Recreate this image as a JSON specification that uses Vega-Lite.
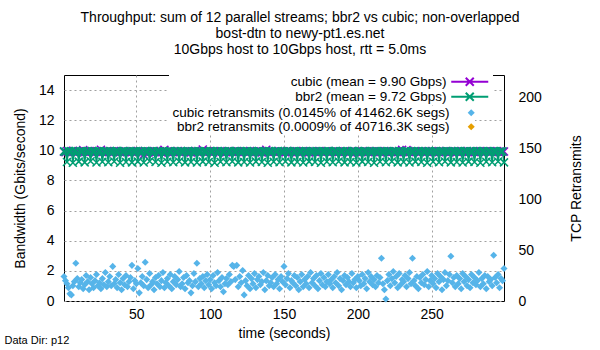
{
"$schema": "https://vega.github.io/schema/vega-lite/v6.json",
"width": 440, "height": 226,
"autosize": {"type": "none"},
"padding": {"left": 64, "top": 75, "right": 96, "bottom": 49},
"config": {
  "font": "Liberation Sans",
  "view": {"stroke": "black", "strokeWidth": 1},
  "axis": {"labelFontSize": 14, "titleFontSize": 14, "titleFontWeight": "normal", "labelColor": "black", "titleColor": "black", "domain": false, "ticks": false, "gridColor": "#a0a0a0", "gridDash": [2, 3], "gridWidth": 1, "labelFont": "Liberation Sans", "titleFont": "Liberation Sans"},
  "legend": {"padding": 0, "fillColor": "white", "labelAlign": "right", "labelFontSize": 13.5, "labelColor": "black", "labelFont": "Liberation Sans", "rowPadding": -4, "labelLimit": 400}
},
"title": {"text": ["Throughput: sum of 12 parallel streams; bbr2 vs cubic; non-overlapped", "bost-dtn to newy-pt1.es.net", "10Gbps host to 10Gbps host, rtt = 5.0ms"], "anchor": "middle", "frame": "group", "dx": 16, "fontSize": 14, "fontWeight": "normal", "font": "Liberation Sans", "lineHeight": 16, "offset": 18, "color": "black"},
"datasets": {"d": [
{"t":1,"c":9.91,"b":9.93,"r":24},{"t":2,"c":9.88,"b":9.90,"r":20},{"t":3,"c":9.95,"b":9.22,"r":17},{"t":4,"c":9.90,"b":9.95,"r":13},{"t":5,"c":9.86,"b":9.91,"r":7},{"t":6,"c":9.93,"b":9.94,"r":6},{"t":7,"c":9.97,"b":9.18,"r":15},{"t":8,"c":9.89,"b":9.92,"r":19},{"t":9,"c":9.92,"b":9.96,"r":37},{"t":10,"c":9.85,"b":9.89,"r":22},
{"t":11,"c":9.94,"b":9.25,"r":14},{"t":12,"c":9.90,"b":9.93,"r":18},{"t":13,"c":9.87,"b":9.90,"r":21},{"t":14,"c":10.02,"b":9.95,"r":12},{"t":15,"c":9.91,"b":9.20,"r":16},{"t":16,"c":9.89,"b":9.92,"r":25},{"t":17,"c":9.96,"b":9.94,"r":19},{"t":18,"c":9.88,"b":9.91,"r":11},{"t":19,"c":9.93,"b":9.27,"r":23},{"t":20,"c":9.90,"b":9.96,"r":17},
{"t":21,"c":9.86,"b":9.89,"r":13},{"t":22,"c":9.92,"b":9.93,"r":20},{"t":23,"c":9.95,"b":9.19,"r":26},{"t":24,"c":9.89,"b":9.92,"r":15},{"t":25,"c":9.91,"b":9.95,"r":18},{"t":26,"c":10.04,"b":9.90,"r":12},{"t":27,"c":9.87,"b":9.24,"r":22},{"t":28,"c":9.93,"b":9.94,"r":16},{"t":29,"c":9.90,"b":9.91,"r":28},{"t":30,"c":9.88,"b":9.93,"r":14},
{"t":31,"c":9.94,"b":9.21,"r":19},{"t":32,"c":9.91,"b":9.95,"r":24},{"t":33,"c":9.85,"b":9.92,"r":15},{"t":34,"c":9.92,"b":9.88,"r":34},{"t":35,"c":9.96,"b":9.26,"r":17},{"t":36,"c":9.89,"b":9.93,"r":21},{"t":37,"c":9.90,"b":9.96,"r":13},{"t":38,"c":9.93,"b":9.90,"r":26},{"t":39,"c":9.87,"b":9.18,"r":18},{"t":40,"c":9.91,"b":9.94,"r":11},
{"t":41,"c":9.95,"b":9.91,"r":22},{"t":42,"c":9.88,"b":9.95,"r":16},{"t":43,"c":9.92,"b":9.23,"r":25},{"t":44,"c":9.90,"b":9.92,"r":14},{"t":45,"c":9.86,"b":9.89,"r":19},{"t":46,"c":9.94,"b":9.94,"r":23},{"t":47,"c":9.89,"b":9.20,"r":35},{"t":48,"c":9.93,"b":9.93,"r":12},{"t":49,"c":9.91,"b":9.90,"r":20},{"t":50,"c":9.87,"b":9.96,"r":17},
{"t":51,"c":9.95,"b":9.25,"r":32},{"t":52,"c":9.90,"b":9.91,"r":8},{"t":53,"c":9.92,"b":9.94,"r":18},{"t":54,"c":9.88,"b":9.92,"r":24},{"t":55,"c":9.71,"b":9.19,"r":15},{"t":56,"c":9.93,"b":9.95,"r":38},{"t":57,"c":9.90,"b":9.90,"r":21},{"t":58,"c":9.86,"b":9.93,"r":13},{"t":59,"c":9.94,"b":9.27,"r":27},{"t":60,"c":9.91,"b":9.92,"r":16},
{"t":61,"c":9.89,"b":9.96,"r":19},{"t":62,"c":9.95,"b":9.89,"r":11},{"t":63,"c":9.88,"b":9.22,"r":23},{"t":64,"c":9.92,"b":9.94,"r":17},{"t":65,"c":9.90,"b":9.91,"r":25},{"t":66,"c":9.93,"b":9.93,"r":14},{"t":67,"c":9.87,"b":9.18,"r":20},{"t":68,"c":9.91,"b":9.95,"r":28},{"t":69,"c":10.03,"b":9.92,"r":13},{"t":70,"c":9.89,"b":9.90,"r":18},
{"t":71,"c":9.92,"b":9.24,"r":22},{"t":72,"c":9.86,"b":9.93,"r":15},{"t":73,"c":9.94,"b":9.96,"r":26},{"t":74,"c":9.90,"b":9.91,"r":12},{"t":75,"c":9.88,"b":9.21,"r":19},{"t":76,"c":9.93,"b":9.94,"r":24},{"t":77,"c":9.91,"b":9.89,"r":16},{"t":78,"c":9.95,"b":9.92,"r":21},{"t":79,"c":9.89,"b":9.26,"r":29},{"t":80,"c":9.92,"b":9.95,"r":14},
{"t":81,"c":9.87,"b":9.90,"r":17},{"t":82,"c":9.90,"b":9.93,"r":23},{"t":83,"c":9.94,"b":9.20,"r":12},{"t":84,"c":9.88,"b":9.92,"r":25},{"t":85,"c":9.91,"b":9.96,"r":18},{"t":86,"c":9.93,"b":9.91,"r":20},{"t":87,"c":9.86,"b":9.23,"r":8},{"t":88,"c":9.92,"b":9.94,"r":15},{"t":89,"c":9.90,"b":9.90,"r":27},{"t":90,"c":9.95,"b":9.93,"r":19},
{"t":91,"c":9.89,"b":9.19,"r":37},{"t":92,"c":9.91,"b":9.95,"r":14},{"t":93,"c":9.88,"b":9.92,"r":22},{"t":94,"c":9.94,"b":9.89,"r":17},{"t":95,"c":10.05,"b":9.25,"r":24},{"t":96,"c":9.90,"b":9.93,"r":13},{"t":97,"c":9.87,"b":9.94,"r":20},{"t":98,"c":9.92,"b":9.91,"r":26},{"t":99,"c":9.93,"b":9.22,"r":16},{"t":100,"c":9.89,"b":9.96,"r":21},
{"t":101,"c":9.91,"b":9.90,"r":12},{"t":102,"c":9.86,"b":9.94,"r":25},{"t":103,"c":9.94,"b":9.18,"r":18},{"t":104,"c":9.90,"b":9.92,"r":15},{"t":105,"c":9.92,"b":9.95,"r":28},{"t":106,"c":9.88,"b":9.91,"r":20},{"t":107,"c":9.95,"b":9.24,"r":14},{"t":108,"c":9.91,"b":9.93,"r":23},{"t":109,"c":9.89,"b":9.89,"r":9},{"t":110,"c":9.93,"b":9.94,"r":17},
{"t":111,"c":9.87,"b":9.21,"r":22},{"t":112,"c":9.90,"b":9.92,"r":16},{"t":113,"c":9.94,"b":9.96,"r":26},{"t":114,"c":9.92,"b":9.90,"r":19},{"t":115,"c":9.88,"b":9.26,"r":35},{"t":116,"c":9.91,"b":9.93,"r":34},{"t":117,"c":9.96,"b":9.91,"r":21},{"t":118,"c":9.89,"b":9.95,"r":35},{"t":119,"c":9.93,"b":9.20,"r":14},{"t":120,"c":9.90,"b":9.92,"r":24},
{"t":121,"c":9.86,"b":9.94,"r":18},{"t":122,"c":9.92,"b":9.90,"r":30},{"t":123,"c":9.94,"b":9.23,"r":6},{"t":124,"c":9.88,"b":9.93,"r":20},{"t":125,"c":9.91,"b":9.96,"r":15},{"t":126,"c":9.89,"b":9.91,"r":25},{"t":127,"c":9.95,"b":9.19,"r":12},{"t":128,"c":9.90,"b":9.94,"r":22},{"t":129,"c":9.87,"b":9.92,"r":17},{"t":130,"c":9.93,"b":9.89,"r":27},
{"t":131,"c":9.91,"b":9.25,"r":13},{"t":132,"c":9.88,"b":9.93,"r":21},{"t":133,"c":9.94,"b":9.95,"r":24},{"t":134,"c":9.92,"b":9.90,"r":16},{"t":135,"c":9.86,"b":9.22,"r":19},{"t":136,"c":9.90,"b":9.94,"r":28},{"t":137,"c":9.93,"b":9.91,"r":11},{"t":138,"c":10.04,"b":9.93,"r":20},{"t":139,"c":9.89,"b":9.18,"r":25},{"t":140,"c":9.91,"b":9.96,"r":15},
{"t":141,"c":9.87,"b":9.92,"r":18},{"t":142,"c":9.95,"b":9.90,"r":23},{"t":143,"c":9.90,"b":9.24,"r":14},{"t":144,"c":9.92,"b":9.94,"r":26},{"t":145,"c":9.88,"b":9.91,"r":17},{"t":146,"c":9.93,"b":9.95,"r":21},{"t":147,"c":9.91,"b":9.21,"r":12},{"t":148,"c":9.89,"b":9.92,"r":24},{"t":149,"c":9.94,"b":9.89,"r":19},{"t":150,"c":9.90,"b":9.93,"r":34},
{"t":151,"c":9.86,"b":9.26,"r":16},{"t":152,"c":9.92,"b":9.95,"r":22},{"t":153,"c":9.95,"b":9.90,"r":27},{"t":154,"c":9.88,"b":9.94,"r":13},{"t":155,"c":9.91,"b":9.20,"r":20},{"t":156,"c":9.93,"b":9.92,"r":18},{"t":157,"c":9.89,"b":9.96,"r":25},{"t":158,"c":9.90,"b":9.91,"r":15},{"t":159,"c":9.94,"b":9.23,"r":23},{"t":160,"c":9.87,"b":9.93,"r":11},
{"t":161,"c":9.92,"b":9.90,"r":19},{"t":162,"c":9.90,"b":9.94,"r":26},{"t":163,"c":9.95,"b":9.19,"r":14},{"t":164,"c":9.88,"b":9.92,"r":21},{"t":165,"c":9.91,"b":9.95,"r":17},{"t":166,"c":9.93,"b":9.91,"r":24},{"t":167,"c":9.86,"b":9.25,"r":13},{"t":168,"c":9.90,"b":9.93,"r":28},{"t":169,"c":9.94,"b":9.89,"r":18},{"t":170,"c":9.92,"b":9.94,"r":22},
{"t":171,"c":9.89,"b":9.22,"r":15},{"t":172,"c":9.91,"b":9.96,"r":25},{"t":173,"c":9.87,"b":9.92,"r":12},{"t":174,"c":9.95,"b":9.90,"r":20},{"t":175,"c":9.90,"b":9.18,"r":27},{"t":176,"c":9.93,"b":9.94,"r":16},{"t":177,"c":9.88,"b":9.91,"r":23},{"t":178,"c":9.92,"b":9.93,"r":14},{"t":179,"c":9.94,"b":9.24,"r":19},{"t":180,"c":9.90,"b":9.95,"r":26},
{"t":181,"c":9.86,"b":9.90,"r":17},{"t":182,"c":9.91,"b":9.92,"r":21},{"t":183,"c":9.93,"b":9.21,"r":13},{"t":184,"c":9.89,"b":9.94,"r":24},{"t":185,"c":9.95,"b":9.96,"r":18},{"t":186,"c":9.90,"b":9.91,"r":28},{"t":187,"c":9.88,"b":9.26,"r":15},{"t":188,"c":9.92,"b":9.93,"r":22},{"t":189,"c":9.91,"b":9.89,"r":11},{"t":190,"c":9.87,"b":9.94,"r":20},
{"t":191,"c":9.94,"b":9.20,"r":25},{"t":192,"c":9.90,"b":9.92,"r":16},{"t":193,"c":9.93,"b":9.95,"r":23},{"t":194,"c":9.89,"b":9.90,"r":19},{"t":195,"c":9.91,"b":9.23,"r":14},{"t":196,"c":9.95,"b":9.93,"r":27},{"t":197,"c":9.88,"b":9.96,"r":18},{"t":198,"c":9.92,"b":9.91,"r":21},{"t":199,"c":9.90,"b":9.19,"r":13},{"t":200,"c":9.86,"b":9.94,"r":24},
{"t":201,"c":9.93,"b":9.92,"r":20},{"t":202,"c":9.91,"b":9.90,"r":15},{"t":203,"c":9.89,"b":9.25,"r":26},{"t":204,"c":9.94,"b":9.93,"r":17},{"t":205,"c":9.90,"b":9.95,"r":22},{"t":206,"c":9.92,"b":9.91,"r":12},{"t":207,"c":9.88,"b":9.22,"r":28},{"t":208,"c":9.95,"b":9.94,"r":19},{"t":209,"c":9.91,"b":9.89,"r":24},{"t":210,"c":9.87,"b":9.93,"r":16},
{"t":211,"c":9.93,"b":9.18,"r":21},{"t":212,"c":9.90,"b":9.96,"r":14},{"t":213,"c":9.89,"b":9.92,"r":25},{"t":214,"c":9.94,"b":9.90,"r":18},{"t":215,"c":9.92,"b":9.24,"r":23},{"t":216,"c":9.88,"b":9.94,"r":42},{"t":217,"c":9.91,"b":9.91,"r":17},{"t":218,"c":9.95,"b":9.93,"r":11},{"t":219,"c":9.90,"b":9.21,"r":2},{"t":220,"c":9.86,"b":9.95,"r":20},
{"t":221,"c":9.93,"b":9.92,"r":26},{"t":222,"c":9.91,"b":9.90,"r":15},{"t":223,"c":9.89,"b":9.26,"r":22},{"t":224,"c":9.92,"b":9.94,"r":29},{"t":225,"c":9.94,"b":9.91,"r":18},{"t":226,"c":9.90,"b":9.93,"r":24},{"t":227,"c":9.88,"b":9.20,"r":13},{"t":228,"c":9.93,"b":9.96,"r":27},{"t":229,"c":9.91,"b":9.92,"r":16},{"t":230,"c":10.03,"b":9.89,"r":21},
{"t":231,"c":9.89,"b":9.23,"r":19},{"t":232,"c":9.92,"b":9.94,"r":25},{"t":233,"c":10.02,"b":9.91,"r":14},{"t":234,"c":9.90,"b":9.95,"r":22},{"t":235,"c":9.87,"b":9.19,"r":28},{"t":236,"c":9.94,"b":9.93,"r":17},{"t":237,"c":9.91,"b":9.90,"r":42},{"t":238,"c":9.89,"b":9.94,"r":20},{"t":239,"c":9.95,"b":9.25,"r":15},{"t":240,"c":9.90,"b":9.92,"r":24},
{"t":241,"c":9.92,"b":9.96,"r":12},{"t":242,"c":9.88,"b":9.91,"r":23},{"t":243,"c":9.93,"b":9.22,"r":18},{"t":244,"c":9.91,"b":9.93,"r":26},{"t":245,"c":9.86,"b":9.89,"r":16},{"t":246,"c":9.94,"b":9.94,"r":21},{"t":247,"c":9.90,"b":9.18,"r":29},{"t":248,"c":9.92,"b":9.95,"r":14},{"t":249,"c":9.89,"b":9.92,"r":20},{"t":250,"c":9.95,"b":9.90,"r":25},
{"t":251,"c":9.91,"b":9.24,"r":17},{"t":252,"c":9.88,"b":9.93,"r":22},{"t":253,"c":9.93,"b":9.96,"r":13},{"t":254,"c":9.90,"b":9.91,"r":27},{"t":255,"c":9.87,"b":9.21,"r":19},{"t":256,"c":9.94,"b":9.94,"r":24},{"t":257,"c":9.92,"b":9.89,"r":11},{"t":258,"c":9.89,"b":9.93,"r":21},{"t":259,"c":9.91,"b":9.26,"r":28},{"t":260,"c":9.95,"b":9.95,"r":15},
{"t":261,"c":9.90,"b":9.90,"r":20},{"t":262,"c":9.86,"b":9.92,"r":26},{"t":263,"c":9.93,"b":9.20,"r":44},{"t":264,"c":9.91,"b":9.94,"r":18},{"t":265,"c":9.89,"b":9.91,"r":23},{"t":266,"c":9.94,"b":9.93,"r":14},{"t":267,"c":9.90,"b":9.23,"r":25},{"t":268,"c":9.92,"b":9.96,"r":17},{"t":269,"c":9.88,"b":9.92,"r":22},{"t":270,"c":9.95,"b":9.90,"r":12},
{"t":271,"c":9.91,"b":9.19,"r":27},{"t":272,"c":9.89,"b":9.94,"r":19},{"t":273,"c":9.93,"b":9.91,"r":24},{"t":274,"c":9.90,"b":9.95,"r":15},{"t":275,"c":9.87,"b":9.25,"r":21},{"t":276,"c":9.92,"b":9.93,"r":13},{"t":277,"c":9.94,"b":9.90,"r":26},{"t":278,"c":9.90,"b":9.94,"r":18},{"t":279,"c":9.88,"b":9.22,"r":23},{"t":280,"c":9.93,"b":9.92,"r":16},
{"t":281,"c":9.91,"b":9.96,"r":20},{"t":282,"c":9.89,"b":9.91,"r":28},{"t":283,"c":9.95,"b":9.18,"r":14},{"t":284,"c":9.90,"b":9.93,"r":22},{"t":285,"c":9.86,"b":9.95,"r":17},{"t":286,"c":9.92,"b":9.90,"r":25},{"t":287,"c":9.94,"b":9.24,"r":12},{"t":288,"c":9.91,"b":9.94,"r":24},{"t":289,"c":9.88,"b":9.92,"r":19},{"t":290,"c":9.93,"b":9.89,"r":21},
{"t":291,"c":9.90,"b":9.21,"r":15},{"t":292,"c":9.92,"b":9.95,"r":45},{"t":293,"c":9.89,"b":9.93,"r":23},{"t":294,"c":9.95,"b":9.90,"r":18},{"t":295,"c":9.91,"b":9.26,"r":26},{"t":296,"c":9.87,"b":9.94,"r":13},{"t":297,"c":9.93,"b":9.91,"r":22},{"t":298,"c":9.90,"b":9.93,"r":20},{"t":299,"c":9.92,"b":9.20,"r":32}
]},
"layer": [
  {
    "data": {"name": "d"},
    "encoding": {"x": {"field": "t", "type": "quantitative", "scale": {"domain": [1, 299], "nice": false, "zero": false}, "axis": {"values": [50, 100, 150, 200, 250], "title": "time (seconds)", "grid": true, "labelPadding": 6, "titlePadding": 5}}},
    "layer": [
      {"mark": {"type": "line", "strokeWidth": 1.5},
       "encoding": {"y": {"field": "c", "type": "quantitative", "scale": {"domain": [0, 15], "nice": false}, "axis": {"values": [0, 2, 4, 6, 8, 10, 12, 14], "title": "Bandwidth (Gbits/second)", "grid": true, "labelPadding": 10, "titlePadding": 11}},
         "color": {"datum": "cubic (mean = 9.90 Gbps)", "type": "nominal", "scale": {"domain": ["cubic (mean = 9.90 Gbps)", "bbr2 (mean = 9.72 Gbps)"], "range": ["#9400d3", "#009e73"]},
           "legend": {"title": null, "orient": "none", "legendX": 105, "legendY": 0, "symbolType": "M-3.7,0H3.7M-0.8,-0.8L0.8,0.8M-0.8,0.8L0.8,-0.8", "symbolSize": 100, "symbolStrokeWidth": 2, "symbolOffset": 294, "labelOffset": -30}}}},
      {"mark": {"type": "point", "shape": "M-1,-1L1,1M-1,1L1,-1", "size": 64, "strokeWidth": 1.5, "filled": false, "opacity": 1},
       "encoding": {"y": {"field": "c", "type": "quantitative", "scale": {"domain": [0, 15], "nice": false}, "axis": {"values": [0, 2, 4, 6, 8, 10, 12, 14], "title": "Bandwidth (Gbits/second)", "grid": true, "labelPadding": 10, "titlePadding": 11}},
         "color": {"datum": "cubic (mean = 9.90 Gbps)", "type": "nominal", "scale": {"domain": ["cubic (mean = 9.90 Gbps)", "bbr2 (mean = 9.72 Gbps)"], "range": ["#9400d3", "#009e73"]},
           "legend": {"title": null, "orient": "none", "legendX": 105, "legendY": 0, "symbolType": "M-3.7,0H3.7M-0.8,-0.8L0.8,0.8M-0.8,0.8L0.8,-0.8", "symbolSize": 100, "symbolStrokeWidth": 2, "symbolOffset": 294, "labelOffset": -30}}}},
      {"mark": {"type": "line", "strokeWidth": 1.5},
       "encoding": {"y": {"field": "b", "type": "quantitative", "scale": {"domain": [0, 15], "nice": false}, "axis": {"values": [0, 2, 4, 6, 8, 10, 12, 14], "title": "Bandwidth (Gbits/second)", "grid": true, "labelPadding": 10, "titlePadding": 11}},
         "color": {"datum": "bbr2 (mean = 9.72 Gbps)", "type": "nominal", "scale": {"domain": ["cubic (mean = 9.90 Gbps)", "bbr2 (mean = 9.72 Gbps)"], "range": ["#9400d3", "#009e73"]},
           "legend": {"title": null, "orient": "none", "legendX": 105, "legendY": 0, "symbolType": "M-3.7,0H3.7M-0.8,-0.8L0.8,0.8M-0.8,0.8L0.8,-0.8", "symbolSize": 100, "symbolStrokeWidth": 2, "symbolOffset": 294, "labelOffset": -30}}}},
      {"mark": {"type": "point", "shape": "M-1,-1L1,1M-1,1L1,-1", "size": 64, "strokeWidth": 1.5, "filled": false, "opacity": 1},
       "encoding": {"y": {"field": "b", "type": "quantitative", "scale": {"domain": [0, 15], "nice": false}, "axis": {"values": [0, 2, 4, 6, 8, 10, 12, 14], "title": "Bandwidth (Gbits/second)", "grid": true, "labelPadding": 10, "titlePadding": 11}},
         "color": {"datum": "bbr2 (mean = 9.72 Gbps)", "type": "nominal", "scale": {"domain": ["cubic (mean = 9.90 Gbps)", "bbr2 (mean = 9.72 Gbps)"], "range": ["#9400d3", "#009e73"]},
           "legend": {"title": null, "orient": "none", "legendX": 105, "legendY": 0, "symbolType": "M-3.7,0H3.7M-0.8,-0.8L0.8,0.8M-0.8,0.8L0.8,-0.8", "symbolSize": 100, "symbolStrokeWidth": 2, "symbolOffset": 294, "labelOffset": -30}}}}
    ]
  },
  {
    "layer": [
      {
        "data": {"name": "d"},
        "mark": {"type": "point", "shape": "diamond", "filled": true, "size": 50, "opacity": 1},
        "encoding": {
          "x": {"field": "t", "type": "quantitative", "scale": {"domain": [1, 299], "nice": false, "zero": false}, "axis": {"values": [50, 100, 150, 200, 250], "title": "time (seconds)", "grid": true, "labelPadding": 6, "titlePadding": 5}},
          "y": {"field": "r", "type": "quantitative", "scale": {"domain": [0, 222], "nice": false}, "axis": {"orient": "right", "values": [0, 50, 100, 150, 200], "title": "TCP Retransmits", "titleAngle": 270, "grid": false, "labelPadding": 14, "titlePadding": 42}},
          "fill": {"datum": "cubic retransmits (0.0145% of 41462.6K segs)", "type": "nominal", "scale": {"domain": ["cubic retransmits (0.0145% of 41462.6K segs)", "bbr2 retransmits (0.0009% of 40716.3K segs)"], "range": ["#56b4e9", "#e69f00"]},
            "legend": {"title": null, "orient": "none", "legendX": 105, "legendY": 31, "symbolType": "diamond", "symbolSize": 50, "symbolStrokeWidth": 0, "symbolOffset": 295.46, "labelOffset": -28.53}}
        }
      },
      {
        "data": {"values": [{"label": "Data Dir: p12"}]},
        "mark": {"type": "text", "align": "left", "baseline": "middle", "fontSize": 11, "font": "Liberation Sans", "fill": "black", "clip": false},
        "encoding": {
          "x": {"datum": -39.3, "type": "quantitative", "scale": {"domain": [1, 299], "nice": false, "zero": false}, "axis": {"values": [50, 100, 150, 200, 250], "title": "time (seconds)", "grid": true, "labelPadding": 6, "titlePadding": 5}},
          "y": {"datum": -39.3, "type": "quantitative", "scale": {"domain": [0, 222], "nice": false}, "axis": {"orient": "right", "values": [0, 50, 100, 150, 200], "title": "TCP Retransmits", "titleAngle": 270, "grid": false, "labelPadding": 14, "titlePadding": 42}},
          "text": {"field": "label"}
        }
      }
    ]
  }
],
"resolve": {"scale": {"y": "independent"}}
}
